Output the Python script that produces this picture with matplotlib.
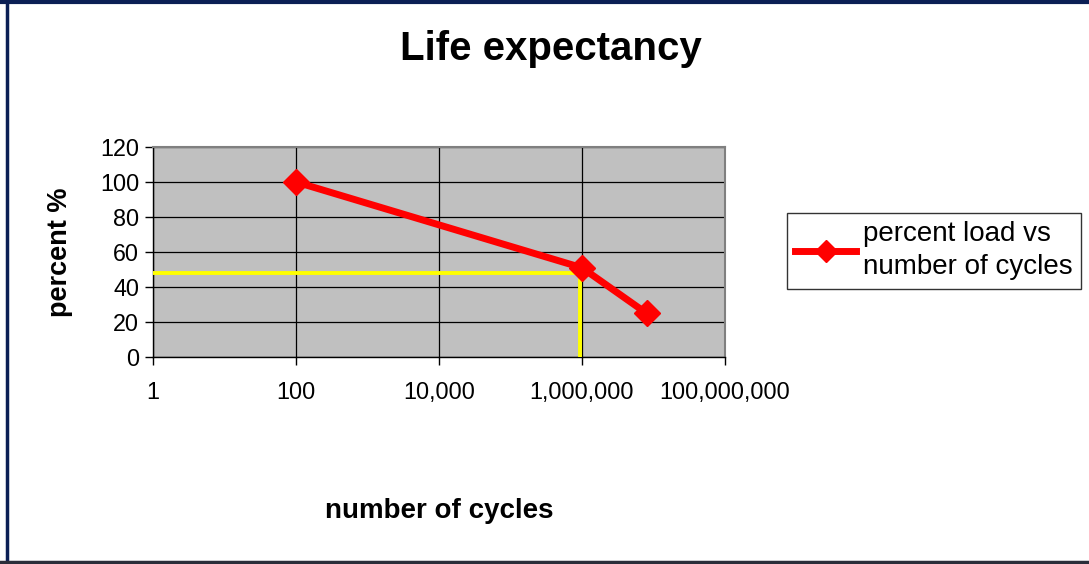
import matplotlib
matplotlib.use("Agg")
import matplotlib.pyplot as plt
from matplotlib.lines import Line2D
from matplotlib.ticker import FixedLocator, FuncFormatter, NullLocator

plt.rcParams['font.family'] = ['Liberation Sans', 'DejaVu Sans']

# data
cycles = [100, 1000000, 8000000]
percent_load = [100, 51, 25]
ref_cycles = [1, 950000, 950000]
ref_percent = [48, 48, 0]
x_ticks = [1, 100, 10000, 1000000, 100000000]
y_ticks = [0, 20, 40, 60, 80, 100, 120]

fig = plt.figure(figsize=(10.89, 5.64), dpi=100)
ax = fig.add_axes([0.1405, 0.367, 0.5252, 0.3724])

ax.set_facecolor('#C0C0C0')
ax.set_xscale('log')
ax.set_xlim(1, 1e8)
ax.set_ylim(0, 120)

ax.plot(ref_cycles, ref_percent, color='#FFFF00', lw=2.8, zorder=3)
ax.plot(cycles, percent_load, color='#FF0000', lw=5, marker='D', ms=13.5,
        label='percent load vs\nnumber of cycles', zorder=4, clip_on=False)

ax.xaxis.set_major_locator(FixedLocator(x_ticks))
ax.xaxis.set_minor_locator(NullLocator())
ax.xaxis.set_major_formatter(FuncFormatter(lambda v, p: f'{int(round(v)):,}'))
ax.set_yticks(y_ticks)
ax.grid(True, color='black', lw=0.9)
ax.set_axisbelow(True)

ax.tick_params(axis='both', direction='out', length=6, width=1, colors='black',
               labelsize=16.8)
ax.tick_params(axis='x', pad=11)
ax.tick_params(axis='y', pad=4)

for s in ['top', 'right']:
    ax.spines[s].set_color('#808080')
    ax.spines[s].set_linewidth(1.5)
for s in ['left', 'bottom']:
    ax.spines[s].set_color('black')
    ax.spines[s].set_linewidth(1)

fig.text(0.506, 0.913, 'Life expectancy', fontsize=29, fontweight='bold',
         ha='center', va='center')
fig.text(0.055, 0.553, 'percent %', fontsize=19.5, fontweight='bold',
         rotation=90, ha='center', va='center')
fig.text(0.403, 0.094, 'number of cycles', fontsize=20, fontweight='bold',
         ha='center', va='center')

leg = fig.legend(loc='center left', bbox_to_anchor=(0.7225, 0.555),
                 fontsize=20, frameon=True, fancybox=False, handlelength=2.2,
                 handletextpad=0.25, borderpad=0.3, borderaxespad=0,
                 markerscale=0.85)
leg.get_frame().set_edgecolor('black')
leg.get_frame().set_linewidth(1)
for t in leg.get_texts():
    t.set_linespacing(1.35)

# outer frame of the chart
fig.add_artist(Line2D([0.006, 0.006], [0, 1], color='#0B1F55', lw=2.5))
fig.add_artist(Line2D([0, 1], [0.997, 0.997], color='#0B1F55', lw=3))
fig.add_artist(Line2D([0, 1], [0.003, 0.003], color='#2A2E3A', lw=2.5))

fig.savefig('out.png', dpi=100)
